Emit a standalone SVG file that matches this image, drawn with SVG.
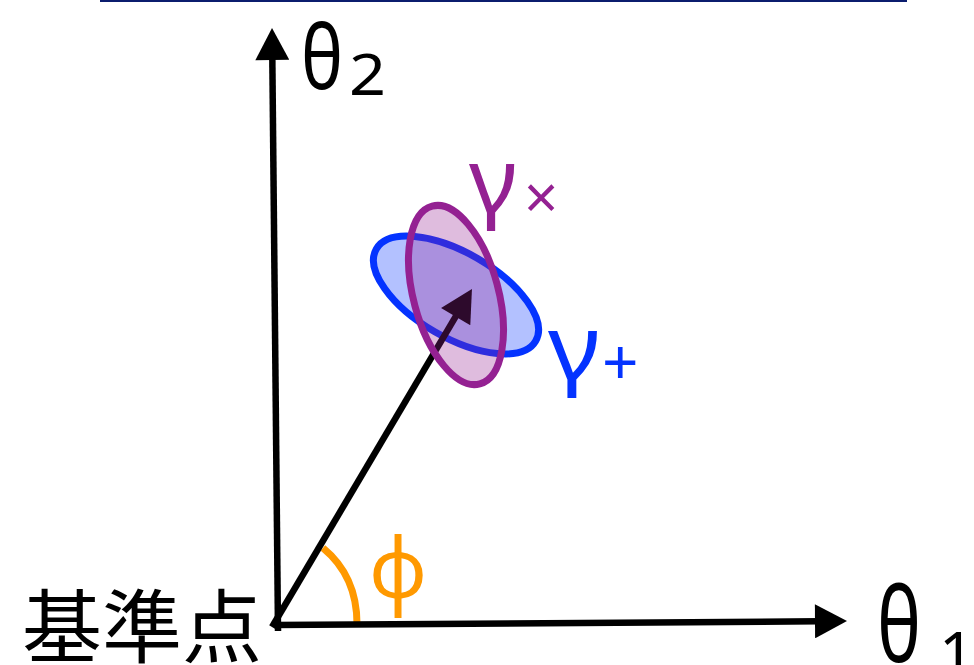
<svg xmlns="http://www.w3.org/2000/svg" width="974" height="665" viewBox="0 0 974 665">
  <style>
    .axis { stroke: #000; stroke-width: 6.5; fill: none; marker-end: url(#ah); }
    .greek { font-family: "Noto Sans", "DejaVu Sans", sans-serif; }
    .cjk { font-family: "Noto Sans CJK JP", "Noto Sans CJK SC", sans-serif; }
  </style>
  <defs>
    <marker id="ah" markerUnits="userSpaceOnUse" markerWidth="34" markerHeight="34" viewBox="0 0 32 34" refX="4" refY="17" orient="auto">
      <path d="M0,0 L32,17 L0,34 Z" fill="#000"/>
    </marker>
  </defs>
  <rect width="974" height="665" fill="#fff"/>
  <rect id="topline" x="100" y="0" width="807" height="2" fill="#0b1d6e"/>

  <g id="angle-arc">
    <path d="M323,548 Q357,576 357,624" fill="none" stroke="#ff9900" stroke-width="7"/>
  </g>

  <g id="ellipse-plus">
    <ellipse cx="456" cy="295" rx="92" ry="42.5" transform="rotate(30 456 295)" fill="#0433ff" fill-opacity="0.3" stroke="#0433ff" stroke-width="7"/>
  </g>

  <g id="connectors">
    <line id="axis-theta2" class="axis" x1="278" y1="631" x2="272.3" y2="56"/>
    <line id="axis-theta1" class="axis" x1="275" y1="625" x2="819" y2="621.3"/>
    <line id="vector" class="axis" x1="272" y1="627" x2="457.7" y2="313.1"/>
  </g>

  <g id="ellipse-cross">
    <ellipse cx="456" cy="295" rx="92" ry="42.5" transform="rotate(75 456 295)" fill="#942192" fill-opacity="0.3" stroke="#942192" stroke-width="7"/>
  </g>

  <g id="label-theta2" class="greek" fill="#000">
    <text x="301" y="89" font-size="90" textLength="42" lengthAdjust="spacingAndGlyphs">θ</text>
    <text x="349" y="95" font-size="56" textLength="37" lengthAdjust="spacingAndGlyphs">2</text>
  </g>
  <g id="label-theta1" class="greek" fill="#000">
    <text x="877" y="662" font-size="104" textLength="44" lengthAdjust="spacingAndGlyphs">θ</text>
    <text x="939" y="676" font-size="62">1</text>
  </g>
  <g id="label-gamma-cross" class="greek" fill="#942192">
    <text x="469" y="212" font-size="90" textLength="48" lengthAdjust="spacingAndGlyphs">γ</text>
    <text x="524" y="219" font-size="60">×</text>
  </g>
  <g id="label-gamma-plus" class="greek" fill="#0433ff">
    <text x="548" y="379" font-size="90" textLength="52" lengthAdjust="spacingAndGlyphs">γ</text>
    <text x="602" y="385" font-size="64">+</text>
  </g>
  <g id="label-phi" class="greek" fill="#ff9900">
    <text x="369" y="598" font-size="84" textLength="58" lengthAdjust="spacingAndGlyphs">φ</text>
  </g>
  <g id="label-origin" class="cjk" fill="#000">
    <text x="22" y="656" font-size="80">基準点</text>
  </g>
</svg>
